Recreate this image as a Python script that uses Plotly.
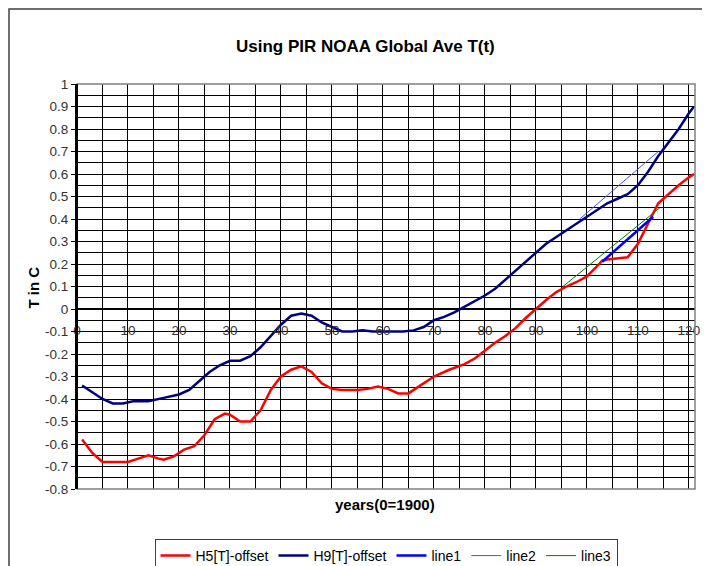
import plotly.graph_objects as go

# ---- data (years since 1900, temperature anomaly in C) ----
h9_years = [1, 3, 5, 7, 9, 11, 14, 17, 20, 22, 24, 26, 28, 30, 32, 34, 36, 38, 40, 42, 44, 46,
            48, 50, 52, 54, 56, 58, 60, 62, 64, 66, 68, 70, 72, 74, 76, 78, 80, 82, 84, 86,
            88, 90, 92, 94, 96, 98, 100, 102, 104, 106, 108, 110, 112, 114, 116, 118, 120, 121]
h9_vals = [-0.34, -0.37, -0.40, -0.42, -0.42, -0.41, -0.41, -0.395, -0.38, -0.36, -0.32, -0.28,
           -0.25, -0.23, -0.23, -0.21, -0.17, -0.12, -0.07, -0.03, -0.02, -0.03, -0.06, -0.08,
           -0.10, -0.10, -0.095, -0.10, -0.10, -0.10, -0.10, -0.095, -0.08, -0.05, -0.035,
           -0.015, 0.01, 0.035, 0.06, 0.09, 0.13, 0.17, 0.21, 0.25, 0.29, 0.32, 0.35, 0.38,
           0.41, 0.44, 0.47, 0.49, 0.51, 0.55, 0.61, 0.68, 0.74, 0.80, 0.87, 0.90]

h5_years = [1, 3, 5, 7, 10, 12, 14, 16, 17, 19, 21, 23, 25, 27, 29, 30, 32, 34, 36, 38, 40, 42,
            44, 46, 48, 50, 52, 55, 57, 59, 61, 63, 65, 67, 70, 73, 76, 78, 80, 82, 84, 86, 88,
            90, 92, 94, 96, 98, 100, 102, 103, 104, 106, 108, 110, 112, 114, 116, 118, 120, 121]
h5_vals = [-0.58, -0.64, -0.68, -0.68, -0.68, -0.665, -0.65, -0.665, -0.67, -0.655, -0.625,
           -0.61, -0.56, -0.49, -0.465, -0.47, -0.50, -0.50, -0.45, -0.36, -0.30, -0.27,
           -0.255, -0.28, -0.33, -0.355, -0.36, -0.36, -0.355, -0.345, -0.355, -0.375, -0.375,
           -0.345, -0.30, -0.27, -0.245, -0.22, -0.185, -0.15, -0.12, -0.085, -0.04, 0.0,
           0.04, 0.075, 0.10, 0.12, 0.145, 0.19, 0.215, 0.22, 0.225, 0.23, 0.29, 0.38, 0.47,
           0.51, 0.55, 0.585, 0.60]

line1_years = [103, 113]
line1_vals = [0.21, 0.41]
line2_years = [98.6, 114]
line2_vals = [0.40, 0.70]
line3_years = [95.3, 114.3]
line3_vals = [0.10, 0.45]

y_tickvals = [1, 0.9, 0.8, 0.7, 0.6, 0.5, 0.4, 0.3, 0.2, 0.1, 0, -0.1, -0.2, -0.3, -0.4,
              -0.5, -0.6, -0.7, -0.8]
y_ticktext = ["1", "0.9", "0.8", "0.7", "0.6", "0.5", "0.4", "0.3", "0.2", "0.1", "0",
              "-0.1", "-0.2", "-0.3", "-0.4", "-0.5", "-0.6", "-0.7", "-0.8"]
x_tickvals = [0, 10, 20, 30, 40, 50, 60, 70, 80, 90, 100, 110, 120]
x_ticktext = [str(v) for v in x_tickvals]

FONT = "Liberation Sans, Arial, sans-serif"

fig = go.Figure()
fig.add_trace(go.Scatter(x=h5_years, y=h5_vals, mode="lines", name="H5[T]-offset",
                         line=dict(color="#FF0000", width=2.5)))
fig.add_trace(go.Scatter(x=h9_years, y=h9_vals, mode="lines", name="H9[T]-offset",
                         line=dict(color="#000080", width=2.5)))
fig.add_trace(go.Scatter(x=line1_years, y=line1_vals, mode="lines", name="line1",
                         line=dict(color="#0000FF", width=2.5)))
fig.add_trace(go.Scatter(x=line2_years, y=line2_vals, mode="lines", name="line2",
                         line=dict(color="#4D4DFF", width=1)))
fig.add_trace(go.Scatter(x=line3_years, y=line3_vals, mode="lines", name="line3",
                         line=dict(color="#008000", width=1)))

W, H = 710, 566
OFF = 8  # page body margin
# plot area in page pixels
L, R, T, B = 77, 695, 84, 489
pw, ph = R - L, B - T


def px(xp):
    return (xp - L) / pw


def py(yp):
    return (B - yp) / ph


zero_pos = (0 - (-0.8)) / (1 - (-0.8))

fig.update_layout(
    width=W, height=H,
    margin=dict(l=L - OFF, r=W - (R - OFF), t=T - OFF, b=H - (B - OFF), autoexpand=False),
    paper_bgcolor="white", plot_bgcolor="white",
    font=dict(family=FONT, size=13, color="black"),
    showlegend=True,
    legend=dict(orientation="h", x=0.5, xanchor="center", xref="paper",
                y=(H - (539 - OFF)) / H, yanchor="top", yref="container",
                bordercolor="#404040", borderwidth=1, font=dict(size=14, family=FONT),
                itemwidth=30, tracegroupgap=0),
    xaxis=dict(range=[0, 121.2], tickmode="array", tickvals=x_tickvals, ticktext=x_ticktext,
               showgrid=True, gridcolor="black", gridwidth=1,
               minor=dict(tickmode="linear", tick0=0, dtick=5, showgrid=True,
                          gridcolor="black", gridwidth=1),
               anchor="free", position=zero_pos, showline=False,
               ticks="inside", ticklen=4, tickcolor="black", ticklabelstandoff=11,
               ticklabeloverflow="allow",
               tickfont=dict(size=13.5, color="#333333"), zeroline=False, fixedrange=True,
               automargin=False),
    yaxis=dict(range=[-0.8, 1], tickmode="array", tickvals=y_tickvals, ticktext=y_ticktext,
               showgrid=True, gridcolor="black", gridwidth=1,
               minor=dict(tickmode="linear", tick0=0, dtick=0.05, showgrid=True,
                          gridcolor="black", gridwidth=1),
               showline=True, linecolor="black", linewidth=2,
               ticks="outside", ticklen=4, tickcolor="black",
               zeroline=True, zerolinecolor="black", zerolinewidth=2,
               tickfont=dict(size=13.5, color="#333333"), fixedrange=True,
               automargin=False),
    shapes=[
        dict(type="rect", xref="paper", yref="paper", x0=0, x1=1, y0=0, y1=1,
             line=dict(color="#808080", width=1.5), layer="above"),
        dict(type="line", xref="paper", yref="paper", x0=0, x1=0, y0=0, y1=1,
             line=dict(color="black", width=2), layer="above"),
        dict(type="rect", xref="paper", yref="paper", x0=px(9), x1=px(725), y0=py(9),
             y1=py(585), line=dict(color="#404040", width=1.5)),
    ],
    annotations=[
        dict(text="<b>Using PIR NOAA Global Ave T(t)</b>", xref="paper", yref="paper",
             x=px(365), y=py(35), showarrow=False, font=dict(size=17, family=FONT)),
        dict(text="<b>years(0=1900)</b>", xref="paper", yref="paper",
             x=px(385), y=py(515), showarrow=False, font=dict(size=15, family=FONT)),
        dict(text="<b>T in C</b>", xref="paper", yref="paper", textangle=-90,
             x=px(22), y=py(288), showarrow=False, font=dict(size=15, family=FONT)),
    ],
)

fig.write_html("out.html")
